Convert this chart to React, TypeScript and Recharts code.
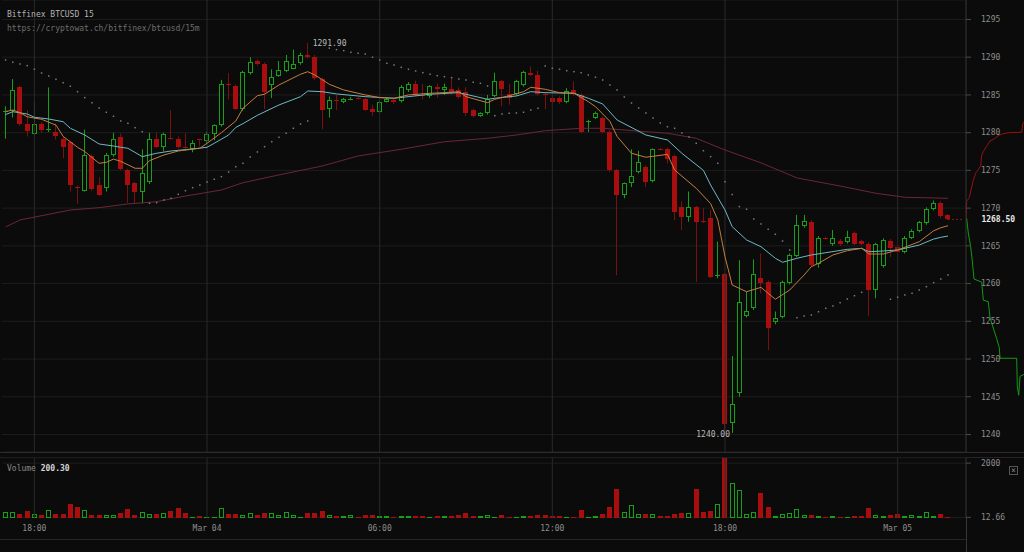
import {
  Bar,
  CartesianGrid,
  ComposedChart,
  Line,
  ReferenceDot,
  ReferenceLine,
  Scatter,
  XAxis,
  YAxis,
} from "recharts";

// 15m candles. Slot 0 is Mar 03 18:00, first candle is slot -4 (17:00), last is Mar 05 01:45
const FIRST_SLOT = -4;
const EMPTY_SLOTS_AFTER = 2;

const opens = [
  1282.8, 1282.9, 1286.0, 1281.1, 1279.8, 1281.1, 1280.4, 1280.1, 1279.2, 1278.7,
  1272.85, 1272.3, 1276.9, 1273.0, 1272.6, 1277.0, 1279.4, 1275.1, 1273.3, 1272.1,
  1273.4, 1279.2, 1278.1, 1279.3, 1279.2, 1278.1, 1277.9, 1279.1, 1278.9, 1279.8,
  1281.0, 1286.4, 1286.2, 1283.1, 1287.9, 1289.5, 1289.1, 1286.3, 1287.55, 1288.2,
  1288.5, 1289.2, 1290.3, 1290.0, 1287.1, 1283.1, 1284.35, 1284.1, 1284.4, 1284.6,
  1284.4, 1283.1, 1282.8, 1284.1, 1284.3, 1284.2, 1285.6, 1286.45, 1285.05, 1284.9,
  1286.0, 1285.7, 1285.75, 1285.6, 1285.35, 1283.0, 1282.2, 1282.6, 1284.9, 1286.8,
  1285.1, 1285.1, 1286.3, 1287.9, 1287.6, 1285.15, 1284.6, 1284.6, 1284.1, 1285.7,
  1285.0, 1281.5, 1282.0, 1281.9, 1280.1, 1275.05, 1271.7, 1273.3, 1274.8, 1275.5,
  1273.6, 1277.9, 1277.8, 1276.95, 1270.1, 1268.8, 1270.1, 1268.25, 1268.65, 1261.1,
  1261.3, 1241.5, 1245.5, 1255.7, 1256.7, 1260.8, 1260.2, 1254.9, 1255.6, 1260.1,
  1263.7, 1267.6, 1268.1, 1262.55, 1266.05, 1265.2, 1265.6, 1265.55, 1266.7, 1265.6,
  1265.3, 1259.15, 1262.3, 1265.6, 1264.8, 1264.2, 1266.1, 1267.0, 1268.0, 1269.9,
  1270.7, 1269.1,
];
const highs = [
  1283.5, 1287.1, 1286.2, 1283.0, 1284.0, 1281.4, 1286.0, 1281.2, 1279.4, 1278.9,
  1273.0, 1280.4, 1277.1, 1274.1, 1277.3, 1280.0, 1279.9, 1275.2, 1273.5, 1277.8,
  1280.0, 1280.0, 1280.0, 1283.0, 1279.5, 1279.9, 1279.0, 1279.2, 1280.1, 1281.1,
  1287.0, 1287.9, 1286.4, 1288.2, 1290.0, 1289.7, 1289.3, 1288.4, 1289.5, 1290.3,
  1291.0, 1290.6, 1291.9, 1290.3, 1287.3, 1284.8, 1285.0, 1284.6, 1284.7, 1284.7,
  1284.6, 1283.7, 1284.3, 1284.6, 1284.5, 1286.3, 1286.7, 1286.9, 1286.45, 1286.3,
  1286.5, 1286.5, 1287.4, 1286.0, 1286.0, 1283.2, 1282.7, 1285.0, 1287.95, 1287.0,
  1286.5, 1287.0, 1288.2, 1288.8, 1288.2, 1285.4, 1284.9, 1284.8, 1285.9, 1286.8,
  1285.2, 1281.7, 1282.8, 1282.1, 1280.3, 1275.2, 1273.4, 1277.8, 1277.6, 1275.7,
  1277.9, 1278.0, 1278.0, 1277.1, 1270.9, 1272.2, 1270.3, 1270.0, 1269.75, 1265.55,
  1261.4, 1250.4, 1263.1, 1258.9, 1263.2, 1264.0, 1260.4, 1256.3, 1260.4, 1264.0,
  1269.1, 1269.1, 1268.4, 1266.3, 1266.2, 1267.1, 1265.9, 1267.0, 1266.9, 1265.8,
  1265.5, 1265.4, 1266.0, 1265.9, 1265.0, 1266.3, 1267.2, 1268.3, 1270.1, 1271.0,
  1270.9, 1269.2,
];
const lows = [
  1279.2, 1282.0, 1280.9, 1279.5, 1279.7, 1280.0, 1280.1, 1279.1, 1276.6, 1272.2,
  1270.6, 1272.2, 1272.3, 1271.6, 1272.2, 1276.8, 1275.0, 1270.7, 1270.6, 1270.6,
  1273.2, 1278.0, 1277.5, 1279.1, 1277.9, 1277.9, 1277.4, 1278.2, 1278.6, 1279.0,
  1280.8, 1284.4, 1283.0, 1282.9, 1287.7, 1288.9, 1283.1, 1284.6, 1287.4, 1288.0,
  1288.4, 1289.0, 1289.8, 1287.0, 1280.45, 1282.0, 1283.0, 1283.9, 1284.3, 1284.4,
  1282.9, 1282.2, 1282.6, 1284.0, 1283.8, 1284.0, 1285.4, 1284.8, 1284.4, 1284.6,
  1284.6, 1285.0, 1285.1, 1284.5, 1282.2, 1282.0, 1282.1, 1282.4, 1284.7, 1283.5,
  1283.7, 1284.9, 1286.1, 1287.5, 1284.9, 1283.1, 1283.8, 1283.8, 1283.9, 1284.9,
  1279.9, 1280.1, 1281.8, 1279.9, 1274.8, 1261.1, 1271.3, 1272.8, 1274.6, 1272.8,
  1273.4, 1277.7, 1275.9, 1268.4, 1267.1, 1268.2, 1260.2, 1268.0, 1260.7, 1260.7,
  1240.0, 1240.2, 1245.0, 1255.5, 1256.5, 1258.7, 1251.2, 1254.6, 1255.4, 1259.9,
  1263.5, 1267.4, 1262.2, 1262.1, 1265.8, 1265.0, 1265.0, 1265.3, 1265.1, 1265.1,
  1255.7, 1258.05, 1262.1, 1263.5, 1264.0, 1264.0, 1265.9, 1266.8, 1267.8, 1269.7,
  1268.65, 1268.4,
];
const closes = [
  1282.9, 1285.7, 1281.1, 1280.2, 1281.1, 1280.3, 1280.5, 1279.5, 1278.1, 1273.0,
  1272.7, 1277.0, 1272.5, 1271.8, 1277.1, 1279.2, 1275.2, 1273.0, 1272.2, 1274.6,
  1279.2, 1278.1, 1279.8, 1279.2, 1278.1, 1278.0, 1278.6, 1279.0, 1279.8, 1281.0,
  1286.5, 1286.3, 1283.1, 1288.0, 1289.4, 1289.1, 1285.4, 1287.4, 1288.3, 1289.5,
  1289.1, 1290.3, 1290.0, 1287.2, 1283.0, 1284.3, 1284.3, 1284.4, 1284.5, 1284.5,
  1283.0, 1282.8, 1284.0, 1284.5, 1284.0, 1286.0, 1286.45, 1285.0, 1285.0, 1286.2,
  1285.8, 1286.0, 1285.3, 1284.7, 1282.65, 1282.25, 1282.6, 1284.4, 1286.9, 1285.75,
  1284.6, 1286.8, 1288.0, 1287.6, 1285.1, 1285.1, 1284.0, 1284.0, 1285.5, 1285.1,
  1280.1, 1281.6, 1282.6, 1280.1, 1275.0, 1271.7, 1273.3, 1274.3, 1276.1, 1273.4,
  1277.8, 1277.8, 1276.5, 1269.5, 1268.8, 1270.1, 1268.2, 1268.2, 1260.9, 1261.2,
  1241.4, 1244.0, 1257.6, 1256.4, 1261.3, 1260.1, 1254.15, 1255.5, 1260.2, 1263.8,
  1267.7, 1268.3, 1262.5, 1266.0, 1266.0, 1266.0, 1265.2, 1266.2, 1265.3, 1265.3,
  1259.15, 1265.2, 1265.8, 1264.75, 1264.15, 1266.1, 1267.0, 1268.1, 1269.9, 1270.7,
  1268.95, 1268.5,
];
const volumes = [
  200.3, 218, 133, 242, 121, 97, 279, 133, 133, 497,
  376, 279, 97, 97, 97, 97, 158, 315, 97, 194,
  133, 133, 158, 242, 339, 158, 24, 48, 36, 36,
  339, 121, 121, 97, 158, 97, 158, 158, 97, 218,
  97, 36, 182, 182, 255, 97, 61, 61, 97, 36,
  97, 97, 61, 61, 36, 61, 61, 61, 61, 36,
  61, 61, 61, 97, 182, 61, 61, 97, 36, 97,
  36, 36, 61, 61, 97, 97, 61, 61, 36, 36,
  279, 36, 61, 133, 400, 1067, 194, 461, 133, 133,
  121, 61, 61, 133, 182, 158, 1042, 194, 255, 497,
  2182, 1285, 1030, 121, 218, 921, 400, 73, 121, 158,
  303, 85, 97, 61, 36, 61, 36, 36, 61, 73,
  364, 97, 61, 97, 121, 61, 97, 61, 218, 73,
  133, 36,
];

// indicator readings: [slot, price]
const fastEma: Array<[number, number]> = [
  [-4, 1282.8], [-3, 1283.0], [-2, 1282.65], [-1, 1282.1], [1, 1281.77], [3, 1281.0],
  [4, 1279.5], [6, 1278.06], [7, 1277.5], [9, 1275.94], [10, 1276.07], [11, 1276.5],
  [12, 1276.2], [14, 1275.28], [15, 1275.28], [16, 1276.29], [18, 1277.04], [20, 1277.57],
  [23, 1277.93], [24, 1278.59], [26, 1280.0], [28, 1281.55], [29, 1283.23], [31, 1284.9],
  [32, 1285.09], [34, 1286.32], [37, 1287.74], [38, 1288.08], [39, 1287.64], [41, 1286.41],
  [43, 1285.66], [46, 1285.0], [48, 1284.64], [50, 1284.56], [52, 1285.0], [55, 1285.22],
  [57, 1285.3], [59, 1285.43], [60, 1284.77], [63, 1283.97], [64, 1284.42], [66, 1284.9],
  [68, 1285.43], [69, 1286.01], [71, 1285.75], [73, 1285.3], [75, 1285.22], [77, 1284.11],
  [78, 1283.44], [79, 1282.48], [80, 1281.5], [81, 1279.5], [83, 1277.27], [85, 1276.74],
  [88, 1277.13], [89, 1275.05], [92, 1272.63], [94, 1270.6], [95, 1268.43], [96, 1263.56],
  [97, 1259.81], [99, 1258.92], [101, 1259.5], [103, 1257.92], [105, 1259.15], [107, 1261.14],
  [108, 1262.24], [109, 1262.69], [111, 1263.79], [113, 1264.36], [115, 1264.67], [116, 1263.92],
  [118, 1263.92], [120, 1264.45], [123, 1265.55], [125, 1267.0], [126, 1267.4], [127, 1267.67],
];
const slowEma: Array<[number, number]> = [
  [-4, 1282.4], [-3, 1282.78], [-1, 1282.47], [0, 1282.04], [2, 1281.81], [4, 1281.45],
  [5, 1280.58], [7, 1279.69], [9, 1278.5], [11, 1278.23], [12, 1278.06], [13, 1277.93],
  [15, 1276.82], [17, 1277.27], [19, 1277.57], [22, 1277.84], [24, 1278.06], [25, 1278.59],
  [27, 1279.69], [28, 1280.7], [29, 1281.2], [31, 1282.3], [34, 1283.67], [37, 1284.77],
  [38, 1285.52], [40, 1285.43], [42, 1285.13], [46, 1284.77], [50, 1284.56], [55, 1285.09],
  [59, 1285.3], [63, 1284.42], [64, 1284.56], [67, 1284.86], [69, 1285.43], [71, 1285.3],
  [75, 1285.22], [77, 1284.56], [79, 1283.8], [81, 1281.68], [85, 1279.69], [88, 1279.03],
  [90, 1277.27], [93, 1275.0], [94, 1273.06], [96, 1269.75], [97, 1267.54], [99, 1265.78],
  [101, 1264.89], [103, 1263.35], [104, 1262.82], [106, 1263.35], [108, 1263.79], [110, 1264.09],
  [113, 1264.54], [115, 1264.67], [116, 1264.22], [118, 1264.32], [120, 1264.45], [123, 1265.11],
  [125, 1265.9], [126, 1266.13], [127, 1266.3],
];
const longMa: Array<[number, number]> = [
  [-4, 1267.5], [-2, 1268.43], [5, 1269.75], [9, 1270.06], [13, 1270.55], [17, 1270.85],
  [21, 1271.6], [26, 1272.4], [29, 1273.37], [34, 1274.4], [40, 1275.58], [45, 1276.91],
  [51, 1277.8], [57, 1278.8], [63, 1279.25], [67, 1279.69], [71, 1280.26], [76, 1280.58],
  [79, 1280.58], [85, 1280.13], [88, 1279.92], [92, 1279.25], [96, 1277.7], [101, 1276.0],
  [106, 1274.0], [112, 1272.93], [117, 1271.96], [121, 1271.44], [127, 1271.3],
];
const parabolicSar: Array<[number, number]> = [
  [-4, 1289.63], [-3, 1289.33], [-2, 1289.1], [-1, 1288.88], [0, 1288.4], [1, 1287.91],
  [2, 1287.51], [3, 1287.07], [4, 1286.62], [5, 1286.15], [6, 1285.43], [7, 1284.64],
  [8, 1283.97], [9, 1283.27], [10, 1282.7], [11, 1282.17], [12, 1281.55], [13, 1281.24],
  [14, 1280.66], [15, 1280.13],
  [16, 1270.64], [17, 1270.72], [18, 1271.08], [19, 1271.3], [20, 1271.83], [21, 1272.31],
  [22, 1272.71], [23, 1273.06], [24, 1273.46], [25, 1273.82], [26, 1274.17], [27, 1274.79],
  [28, 1275.49], [29, 1275.94], [30, 1276.78], [31, 1277.44], [32, 1278.14], [33, 1278.8],
  [34, 1279.39], [35, 1279.92], [36, 1280.58], [37, 1281.15], [38, 1281.55],
  [41, 1291.2], [42, 1291.0], [43, 1290.87], [44, 1290.65], [45, 1290.52], [46, 1290.43],
  [47, 1289.99], [48, 1289.63], [49, 1289.19], [50, 1288.97], [51, 1288.66], [52, 1288.4],
  [53, 1288.17], [54, 1287.95], [55, 1287.74], [56, 1287.55], [57, 1287.42], [58, 1287.29],
  [59, 1287.11], [60, 1286.98], [61, 1286.68], [62, 1286.54], [63, 1286.19],
  [64, 1282.25], [65, 1282.48], [66, 1282.57], [67, 1282.61], [68, 1282.7], [69, 1283.01],
  [70, 1283.23],
  [71, 1288.84], [72, 1288.53], [73, 1288.4], [74, 1288.21], [75, 1288.08], [76, 1287.95],
  [77, 1287.64], [78, 1287.34], [79, 1286.98], [80, 1286.32], [81, 1285.66], [82, 1284.73],
  [83, 1283.93], [84, 1283.27], [85, 1282.61], [86, 1281.95], [87, 1281.28], [88, 1280.79],
  [89, 1280.58], [90, 1279.96], [91, 1279.43], [92, 1278.59], [93, 1277.61], [94, 1276.82],
  [95, 1275.94], [96, 1273.5], [97, 1271.8], [98, 1270.2], [99, 1269.85], [100, 1268.56],
  [101, 1267.9], [102, 1267.19], [103, 1266.53], [104, 1265.64], [105, 1264.45],
  [106, 1255.48], [107, 1255.7], [108, 1255.83], [109, 1256.27], [110, 1256.72], [111, 1257.03],
  [112, 1257.47], [113, 1257.96], [114, 1258.39], [115, 1258.84],
  [119, 1257.92], [120, 1258.18], [121, 1258.49], [122, 1258.71], [123, 1259.15], [124, 1259.59],
  [125, 1260.12], [126, 1260.61], [127, 1261.14],
];

const hourSlots = [0, 24, 48, 72, 96, 120];
const hourLabels = ["18:00", "Mar 04", "06:00", "12:00", "18:00", "Mar 05"];
const priceTicks = [1240, 1245, 1250, 1255, 1260, 1265, 1270, 1275, 1280, 1285, 1290, 1295];
const volumeTicks = [12.66, 2000];

// order book depth drawn past the price axis: [price, cumulative amount]
const askDepth: Array<[number, number]> = [
  [1268.5, 0], [1270.9, 7], [1271.4, 33], [1272.8, 57], [1273.7, 73], [1274.7, 100],
  [1275.1, 123], [1275.6, 147], [1277.0, 157], [1277.5, 173], [1278.2, 207], [1278.9, 240],
  [1279.1, 273], [1279.6, 323], [1279.8, 357], [1280.0, 423], [1280.05, 557], [1281.2, 567],
  [1281.6, 600],
];
const bidDepth: Array<[number, number]> = [
  [1268.5, 0], [1268.6, 7], [1266.7, 23], [1264.85, 47], [1263.0, 63], [1260.6, 80],
  [1260.2, 157], [1257.8, 173], [1257.6, 223], [1255.5, 240], [1254.1, 273], [1252.7, 307],
  [1251.5, 333], [1250.1, 340], [1250.1, 507], [1246.4, 513], [1245.2, 527], [1247.7, 540],
  [1248.1, 600],
];

const PRICE_DOMAIN: [number, number] = [1237.68, 1297.58];
const BG = "#0b0b0b";
const RED = "#a90e0e";
const RED_WICK = "#7a1111";
const GREEN = "#17a017";
const GRID = "#1d1d1d";
const HOUR_LINE = "#2a2a2a";
const AXIS_LINE = "#363636";
const AXIS_TEXT = "#8e8e8e";
const MONO = '"DejaVu Sans Mono", monospace';

type Row = {
  slot: number;
  range?: [number, number];
  open?: number;
  high?: number;
  low?: number;
  close?: number;
  volume?: number;
  fast: number | null;
  slow: number | null;
  long: number | null;
  sar: number | null;
};

const fastMap = new Map(fastEma);
const slowMap = new Map(slowEma);
const longMap = new Map(longMa);
const sarMap = new Map(parabolicSar);

const rows: Row[] = Array.from({ length: opens.length + EMPTY_SLOTS_AFTER }, (_, k) => {
  const slot = FIRST_SLOT + k;
  const row: Row = {
    slot,
    fast: fastMap.get(slot) ?? null,
    slow: slowMap.get(slot) ?? null,
    long: longMap.get(slot) ?? null,
    sar: sarMap.get(slot) ?? null,
  };
  if (k < opens.length) {
    row.range = [lows[k], highs[k]];
    row.open = opens[k];
    row.high = highs[k];
    row.low = lows[k];
    row.close = closes[k];
    row.volume = volumes[k];
  }
  return row;
});

const askRows = askDepth.map(([price, amount]) => ({ price, amount }));
const bidRows = bidDepth.map(([price, amount]) => ({ price, amount }));

const CandleShape = (props: any) => {
  const { x, width, payload } = props;
  let { y, height } = props;
  if (!payload || payload.open == null || y == null) return <g />;
  if (height < 0) {
    y += height;
    height = -height;
  }
  const { open, high, low, close } = payload as Required<Row>;
  const span = high - low;
  const toY = (v: number) => (span > 0 ? y + ((high - v) / span) * height : y);
  const cx = Math.floor(x + width / 2) + 0.5;
  const rising = close >= open;
  const top = Math.round(toY(Math.max(open, close)));
  const bottom = Math.round(toY(Math.min(open, close)));
  const bodyH = bottom - top;
  const wick = (
    <line x1={cx} x2={cx} y1={y} y2={y + height} stroke={rising ? GREEN : RED_WICK} strokeWidth={1} />
  );

  if (rising) {
    return (
      <g>
        {wick}
        {bodyH < 2 ? (
          <line x1={cx - 2.5} x2={cx + 2.5} y1={top + 0.5} y2={top + 0.5} stroke={GREEN} />
        ) : (
          <rect x={cx - 2} y={top + 0.5} width={4} height={bodyH - 1} fill={BG} stroke={GREEN} />
        )}
      </g>
    );
  }
  return (
    <g>
      {wick}
      <rect x={cx - 2.5} y={top} width={5} height={Math.max(bodyH, 1)} fill={RED} />
    </g>
  );
};

const VolumeShape = (props: any) => {
  const { x, y, width, height, payload } = props;
  if (!payload || payload.volume == null || y == null) return <g />;
  const cx = Math.floor(x + width / 2) + 0.5;
  const top = Math.round(y);
  const h = Math.max(Math.round(y + height) - top, 1);
  const rising = payload.close >= payload.open;
  if (rising && h > 2) {
    return <rect x={cx - 2} y={top + 0.5} width={4} height={h - 1} fill={BG} stroke={GREEN} />;
  }
  return <rect x={cx - 2.5} y={top} width={5} height={h} fill={rising ? GREEN : RED} />;
};

const SarDot = (props: any) => {
  const { cx, cy, key } = props;
  if (cy == null || cx == null) return <g key={key} />;
  return <rect key={key} x={cx - 0.75} y={cy - 0.75} width={1.5} height={1.5} fill="#7a7a7a" />;
};

const EmptyPoint = () => <g />;

const axisTick = { fill: AXIS_TEXT, fontSize: 8, fontFamily: MONO };

const BtcCandleChart = () => {
  return (
    <div style={{ position: "relative", width: 1024, height: 552, background: BG, overflow: "hidden" }}>
      <style>{`body{margin:0;background:${BG};}`}</style>

      {/* order book depth beside the price axis */}
      <div style={{ position: "absolute", left: 966, top: 0 }}>
        <ComposedChart width={58} height={452} margin={{ top: 0, right: 0, bottom: 0, left: 0 }}>
          <XAxis type="number" dataKey="amount" domain={[0, 580]} allowDataOverflow hide />
          <YAxis type="number" dataKey="price" domain={PRICE_DOMAIN} allowDataOverflow hide />
          <Scatter data={askRows} line={{ stroke: "#9a1010", strokeWidth: 1 }} shape={EmptyPoint} isAnimationActive={false} />
          <Scatter data={bidRows} line={{ stroke: "#139a13", strokeWidth: 1 }} shape={EmptyPoint} isAnimationActive={false} />
        </ComposedChart>
      </div>

      {/* price panel */}
      <div style={{ position: "absolute", left: 0, top: 0 }}>
        <ComposedChart
          width={1024}
          height={452}
          data={rows}
          margin={{ top: 0, right: 0, bottom: 0, left: 2 }}
          barCategoryGap={0}
        >
          <CartesianGrid stroke={GRID} vertical={false} />
          <XAxis dataKey="slot" type="category" hide />
          <YAxis
            orientation="right"
            width={58}
            domain={PRICE_DOMAIN}
            allowDataOverflow
            ticks={priceTicks}
            interval={0}
            tick={axisTick}
            tickSize={5}
            tickMargin={10}
            axisLine={{ stroke: AXIS_LINE }}
            tickLine={{ stroke: "#4a4a4a" }}
          />
          {hourSlots.map((slot) => (
            <ReferenceLine key={slot} x={slot} stroke={HOUR_LINE} />
          ))}
          <Line dataKey="long" stroke="#6a2638" strokeWidth={1} dot={false} connectNulls isAnimationActive={false} />
          <Line dataKey="sar" stroke="none" dot={SarDot} activeDot={false} isAnimationActive={false} />
          <Bar dataKey="range" shape={CandleShape} isAnimationActive={false} />
          <Line dataKey="slow" stroke="#6cb9c4" strokeWidth={1} dot={false} connectNulls isAnimationActive={false} />
          <Line dataKey="fast" stroke="#c47e3e" strokeWidth={1} dot={false} connectNulls isAnimationActive={false} />
          <ReferenceLine
            segment={[{ x: 127, y: 1268.5 }, { x: 129, y: 1268.5 }]}
            stroke="#8e1515"
            strokeDasharray="2 2"
          />
          <ReferenceDot
            x={38}
            y={1291.9}
            r={0}
            fill="none"
            stroke="none"
            label={{ value: "1291.90", position: "right", offset: 5, fill: "#b8b8b8", fontSize: 8, fontFamily: MONO }}
          />
          <ReferenceDot
            x={96}
            y={1240}
            r={0}
            fill="none"
            stroke="none"
            label={{ value: "1240.00", position: "left", offset: -5, fill: "#b8b8b8", fontSize: 8, fontFamily: MONO }}
          />
          <ReferenceDot
            x={129}
            y={1268.5}
            r={0}
            fill="none"
            stroke="none"
            label={{ value: "1268.50", position: "right", offset: 19, fill: "#e8e8e8", fontSize: 8, fontWeight: 700, fontFamily: MONO }}
          />
        </ComposedChart>
      </div>

      {/* panel separators */}
      <div style={{ position: "absolute", left: 0, top: 452, width: 1024, height: 1, background: "#2c2c2c" }} />
      <div style={{ position: "absolute", left: 0, top: 457, width: 1024, height: 1, background: "#242424" }} />

      {/* volume panel */}
      <div style={{ position: "absolute", left: 0, top: 452 }}>
        <ComposedChart
          width={1024}
          height={100}
          data={rows}
          margin={{ top: 5.7, right: 0, bottom: 0, left: 2 }}
          barCategoryGap={0}
        >
          <CartesianGrid stroke={GRID} vertical={false} />
          <XAxis
            dataKey="slot"
            type="category"
            ticks={hourSlots}
            interval={0}
            tickFormatter={(v) => hourLabels[hourSlots.indexOf(Number(v))] ?? ""}
            tick={axisTick}
            tickLine={false}
            tickSize={0}
            tickMargin={8}
            axisLine={false}
            height={34.3}
          />
          <YAxis
            orientation="right"
            width={58}
            domain={[0, 2200]}
            ticks={volumeTicks}
            interval={0}
            tick={axisTick}
            tickSize={5}
            tickMargin={10}
            axisLine={{ stroke: AXIS_LINE }}
            tickLine={{ stroke: "#4a4a4a" }}
          />
          {hourSlots.map((slot) => (
            <ReferenceLine key={slot} x={slot} stroke={HOUR_LINE} />
          ))}
          <Bar dataKey="volume" shape={VolumeShape} isAnimationActive={false} />
        </ComposedChart>
      </div>

      <div style={{ position: "absolute", left: 966, top: 518, width: 1, height: 34, background: AXIS_LINE }} />
      <div style={{ position: "absolute", left: 0, top: 539, width: 966, height: 1, background: "#262626" }} />

      <div style={{ position: "absolute", left: 7, top: 10, font: `8px ${MONO}`, color: "#b4b4b4", lineHeight: "10px" }}>
        Bitfinex BTCUSD 15
      </div>
      <div style={{ position: "absolute", left: 7, top: 24, font: `8px ${MONO}`, color: "#6e6e6e", lineHeight: "10px" }}>
        https://cryptowat.ch/bitfinex/btcusd/15m
      </div>
      <div style={{ position: "absolute", left: 7, top: 464, font: `8px ${MONO}`, color: "#8a8a8a", lineHeight: "10px" }}>
        Volume <span style={{ color: "#d6d6d6", fontWeight: 700 }}>200.30</span>
      </div>
      <div
        style={{
          position: "absolute",
          left: 1009,
          top: 466,
          width: 7,
          height: 7,
          border: "1px solid #555",
          color: "#888",
          font: `8px ${MONO}`,
          lineHeight: "7px",
          textAlign: "center",
        }}
      >
        ×
      </div>
    </div>
  );
};

export default function App() {
  return <BtcCandleChart />;
}
